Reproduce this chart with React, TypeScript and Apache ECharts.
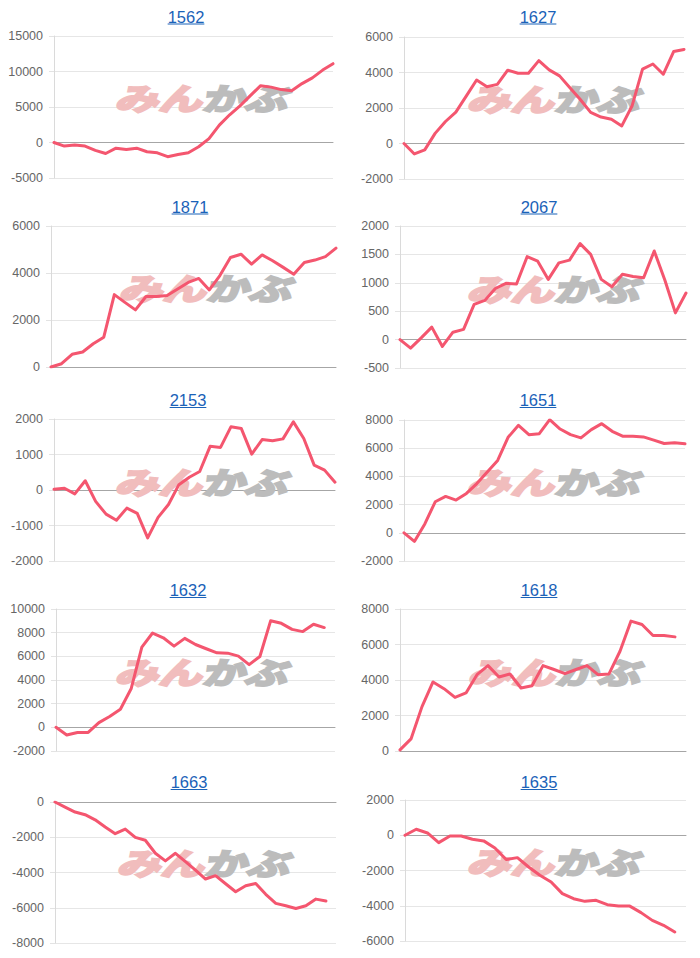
import React, { useEffect, useRef } from 'react';
import * as echarts from 'echarts';

const titles = ['1562', '1627', '1871', '2067', '2153', '1651', '1632', '1618', '1663', '1635'];

const s1562 = [0, -500, -350, -500, -1100, -1550, -800, -1000, -800, -1300, -1450, -2000, -1700, -1450, -600, 550, 2450, 3900, 5150, 6600, 8000, 7800, 7450, 7300, 8300, 9100, 10200, 11100];
const s1627 = [0, -590, -360, 570, 1240, 1770, 2670, 3580, 3200, 3330, 4130, 3960, 3960, 4670, 4150, 3810, 3140, 2480, 1750, 1490, 1370, 990, 2130, 4190, 4480, 3900, 5180, 5300];
const s1871 = [0, 140, 540, 640, 990, 1270, 3080, 2750, 2430, 3000, 3000, 3040, 3320, 3600, 3770, 3280, 3890, 4660, 4800, 4380, 4770, 4520, 4240, 3950, 4450, 4550, 4700, 5060];
const s2067 = [0, -150, 30, 220, -120, 130, 180, 620, 690, 900, 990, 980, 1460, 1380, 1060, 1350, 1400, 1690, 1500, 1060, 930, 1150, 1110, 1090, 1560, 1050, 470, 820];
const s2153 = [20, 50, -110, 260, -320, -680, -850, -510, -660, -1350, -770, -410, 150, 360, 520, 1230, 1200, 1780, 1730, 1010, 1420, 1390, 1440, 1920, 1450, 700, 560, 220];
const s1651 = [0, -610, 630, 2200, 2580, 2320, 2790, 3490, 4310, 5130, 6770, 7620, 6960, 7030, 8020, 7360, 6960, 6730, 7320, 7740, 7200, 6850, 6850, 6800, 6570, 6330, 6380, 6310];
const s1632 = [0, -650, -430, -430, 400, 910, 1530, 3260, 6780, 7970, 7570, 6860, 7520, 7000, 6640, 6300, 6270, 6020, 5300, 5990, 9000, 8790, 8280, 8090, 8710, 8430, null];
const s1618 = [60, 680, 2500, 3890, 3510, 3020, 3270, 4300, 4810, 4170, 4340, 3550, 3680, 4810, 4590, 4360, 4590, 4810, 4300, 4340, 5620, 7320, 7130, 6510, 6510, 6430, null];
const s1663 = [0, -290, -570, -720, -1010, -1420, -1800, -1540, -2010, -2170, -2910, -3340, -2910, -3380, -3860, -4370, -4180, -4640, -5090, -4750, -4620, -5240, -5750, -5890, -6040, -5890, -5510, -5620, null];
const s1635 = [0, 340, 130, -420, -40, -40, -230, -320, -720, -1380, -1270, -1800, -2270, -2650, -3310, -3600, -3750, -3690, -3940, -4020, -4020, -4390, -4830, -5110, -5490, null];

const seriesData = [s1562, s1627, s1871, s2067, s2153, s1651, s1632, s1618, s1663, s1635];

const yMin = [-5000, -2000, 0, -500, -2000, -2000, -2000, 0, -8000, -6000];
const yMax = [15000, 6000, 6000, 2000, 2000, 8000, 10000, 8000, 0, 2000];
const yInterval = [5000, 2000, 2000, 500, 1000, 2000, 2000, 2000, 2000, 2000];

// layout (pixel positions)
const grids = [
  { left: 54, top: 36, width: 279, height: 142 },
  { left: 404, top: 37, width: 280, height: 142 },
  { left: 51, top: 226, width: 285, height: 141 },
  { left: 400, top: 226, width: 286, height: 142 },
  { left: 54, top: 419, width: 281, height: 142 },
  { left: 404, top: 420, width: 281, height: 141 },
  { left: 56, top: 609, width: 279, height: 142 },
  { left: 400, top: 609, width: 286, height: 142 },
  { left: 55, top: 802, width: 281, height: 141 },
  { left: 405, top: 800, width: 281, height: 141 },
];
const titleX = [186, 538, 190, 539, 188, 538, 188, 539, 189, 539];
const titleY = [16.5, 16.5, 206.5, 206.5, 400, 400, 590, 590, 782, 782];
const logoX = [118, 470, 122, 470, 118, 470, 118, 471, 120, 470];
const logoY = [97, 98, 287, 288, 481, 481, 671, 671, 862, 861];

const LINE_COLOR = '#f4566f';
const TITLE_COLOR = '#1a62b8';
const FONT = '"Liberation Sans", Arial, sans-serif';

export default function App() {
  const ref = useRef<HTMLDivElement>(null);

  useEffect(() => {
    document.body.style.margin = '0';
    if (!ref.current) return;
    const chart = echarts.init(ref.current, undefined, { renderer: 'svg' });

    const graphic: any[] = [];
    titles.forEach((t, i) => {
      const w = t.length * 0.556 * 16.5;
      graphic.push({
        type: 'text',
        x: titleX[i],
        y: titleY[i],
        z: 10,
        style: {
          text: t,
          fill: TITLE_COLOR,
          font: `16.5px ${FONT}`,
          textAlign: 'center',
          textVerticalAlign: 'middle',
        },
      });
      graphic.push({
        type: 'line',
        z: 10,
        shape: { x1: titleX[i] - w / 2, y1: titleY[i] + 7.5, x2: titleX[i] + w / 2, y2: titleY[i] + 7.5 },
        style: { stroke: TITLE_COLOR, lineWidth: 1.2 },
      });
      graphic.push({
        type: 'text',
        x: logoX[i],
        y: logoY[i],
        scaleX: 1.45,
        skewX: -0.25,
        z: 1,
        style: {
          text: 'みん',
          fill: '#f1bdbd',
          stroke: '#f1bdbd',
          lineWidth: 2.5,
          font: 'bold 30px "Noto Sans CJK JP"',
          textAlign: 'left',
          textVerticalAlign: 'middle',
        },
      });
      graphic.push({
        type: 'text',
        x: logoX[i] + 87,
        y: logoY[i],
        scaleX: 1.42,
        skewX: -0.25,
        z: 1,
        style: {
          text: 'かぶ',
          fill: '#bcbcbc',
          stroke: '#bcbcbc',
          lineWidth: 2.5,
          font: 'bold 30px "Noto Sans CJK JP"',
          textAlign: 'left',
          textVerticalAlign: 'middle',
        },
      });
    });

    const option: any = {
      animation: false,
      backgroundColor: '#ffffff',
      grid: grids.map((g) => ({ ...g, containLabel: false })),
      xAxis: seriesData.map((d, i) => ({
        type: 'category',
        gridIndex: i,
        boundaryGap: false,
        data: d.map((_, k) => String(k + 1)),
        axisLabel: { show: false },
        axisTick: { show: false },
        splitLine: { show: false },
        axisLine: { show: true, onZero: true, lineStyle: { color: '#a6a6a6', width: 1 } },
      })),
      yAxis: seriesData.map((_, i) => ({
        type: 'value',
        gridIndex: i,
        min: yMin[i],
        max: yMax[i],
        interval: yInterval[i],
        axisLabel: {
          color: '#666666',
          fontSize: 12.5,
          fontFamily: FONT,
          margin: 11,
          formatter: (v: number) => String(v),
        },
        axisTick: { show: true, length: 5, lineStyle: { color: '#e3e3e3' } },
        axisLine: { show: true, lineStyle: { color: '#dadada' } },
        splitLine: { show: true, lineStyle: { color: '#e6e6e6', width: 1 } },
      })),
      series: seriesData.map((d, i) => ({
        type: 'line',
        xAxisIndex: i,
        yAxisIndex: i,
        data: d.map((v) => (v === null ? '-' : v)),
        showSymbol: false,
        symbol: 'none',
        z: 5,
        lineStyle: { color: LINE_COLOR, width: 3, join: 'round', cap: 'round' },
        itemStyle: { color: LINE_COLOR },
      })),
      graphic,
    };
    chart.setOption(option);
    return () => chart.dispose();
  }, []);

  return <div ref={ref} style={{ width: 700, height: 958 }} />;
}
